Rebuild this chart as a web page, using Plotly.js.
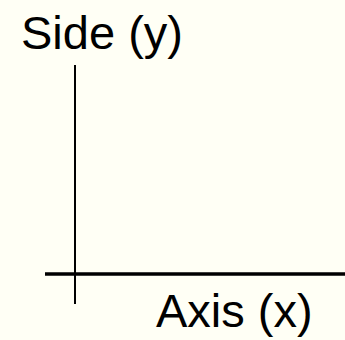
<!DOCTYPE html>
<html>
<head>
<meta charset="utf-8">
<script src="https://cdn.plot.ly/plotly-3.0.1.min.js"></script>
<style>
html,body{margin:0;padding:0;background:#fffff5;}
#chart{width:345px;height:340px;}
</style>
</head>
<body>
<div id="chart"></div>
<script>
// Diagram data: axis segments (in diagram units, origin at crossing) and labels
const xAxisLineX = [-1, 9];
const xAxisLineY = [0, 0];
const yAxisLineX = [0, 0];
const yAxisLineY = [-1, 6.97];
const labelTexts = ["Side (y)", "Axis (x)"];
const labelX = [0.9, 5.3];
const labelY = [8.05, -1.22];

const traces = [
  {x: xAxisLineX, y: xAxisLineY, mode: 'lines', line: {color: '#000', width: 3.5}, hoverinfo: 'skip', showlegend: false},
  {x: yAxisLineX, y: yAxisLineY, mode: 'lines', line: {color: '#000', width: 2}, hoverinfo: 'skip', showlegend: false}
];

const layout = {
  width: 345, height: 340,
  margin: {l: 0, r: 0, t: 0, b: 0},
  paper_bgcolor: '#fffff5',
  plot_bgcolor: 'rgba(0,0,0,0)',
  xaxis: {range: [-2.5, 9], visible: false, fixedrange: true},
  yaxis: {range: [-2.2, 9.133], visible: false, fixedrange: true},
  annotations: labelTexts.map((t, i) => ({
    x: labelX[i], y: labelY[i], xref: 'x', yref: 'y',
    text: t, showarrow: false, xanchor: 'center', yanchor: 'middle',
    font: {family: 'Liberation Sans, Arial, sans-serif', size: 47, color: '#000'}
  }))
};

Plotly.newPlot('chart', traces, layout, {staticPlot: true, displayModeBar: false});
</script>
</body>
</html>
